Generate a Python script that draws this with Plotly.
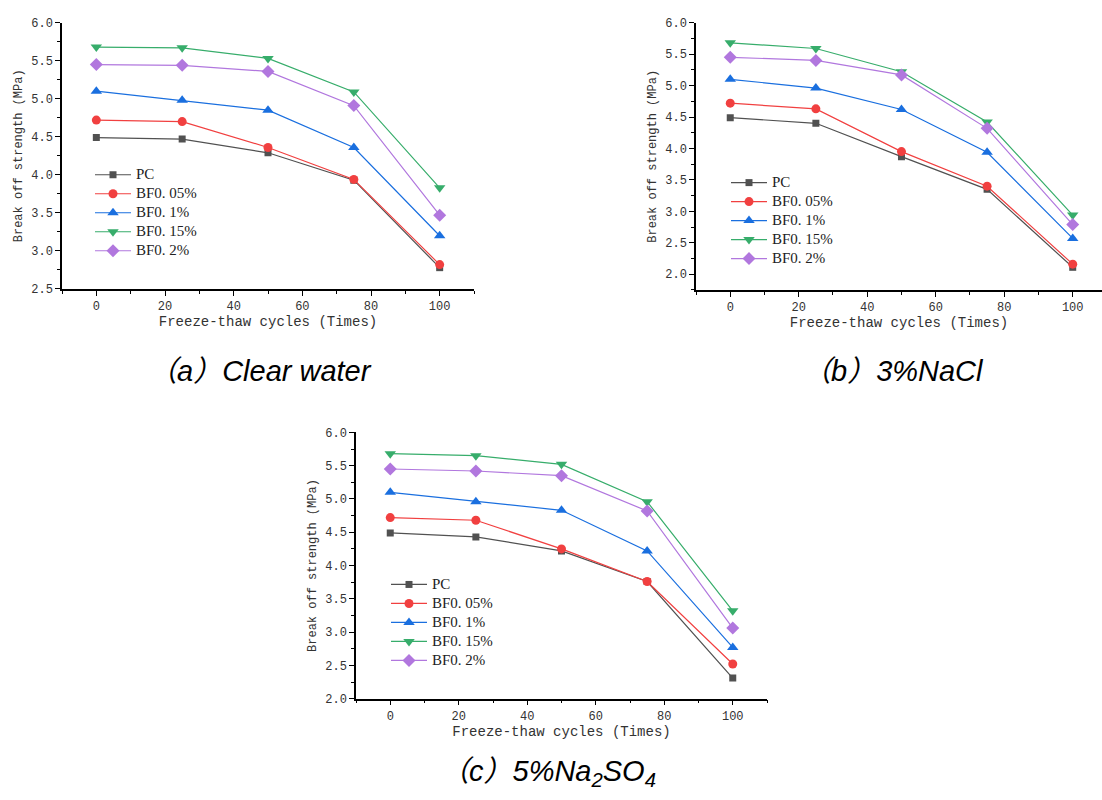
import plotly.graph_objects as go

# ---------------- data ----------------
cycles = [0, 25, 50, 75, 100]
series_names = ["PC", "BF0. 05%", "BF0. 1%", "BF0. 15%", "BF0. 2%"]

clear_pc = [4.49, 4.47, 4.29, 3.93, 2.78]
clear_bf005 = [4.72, 4.70, 4.36, 3.94, 2.82]
clear_bf01 = [5.10, 4.98, 4.85, 4.36, 3.20]
clear_bf015 = [5.68, 5.67, 5.53, 5.09, 3.83]
clear_bf02 = [5.45, 5.44, 5.36, 4.91, 3.47]

nacl_pc = [4.49, 4.40, 3.87, 3.35, 2.11]
nacl_bf005 = [4.72, 4.63, 3.95, 3.40, 2.16]
nacl_bf01 = [5.10, 4.96, 4.62, 3.94, 2.57]
nacl_bf015 = [5.68, 5.59, 5.22, 4.42, 2.94]
nacl_bf02 = [5.45, 5.40, 5.17, 4.32, 2.79]

na2so4_pc = [4.49, 4.43, 4.22, 3.76, 2.31]
na2so4_bf005 = [4.72, 4.68, 4.25, 3.76, 2.52]
na2so4_bf01 = [5.10, 4.96, 4.83, 4.22, 2.77]
na2so4_bf015 = [5.68, 5.65, 5.52, 4.96, 3.32]
na2so4_bf02 = [5.45, 5.42, 5.35, 4.82, 3.06]

captions = ["<i>（a）Clear water</i>", "<i>（b）3%NaCl</i>",
            "<i>（c）5%Na<sub>2</sub>SO<sub>4</sub></i>"]
x_title = "Freeze-thaw cycles (Times)"
y_title = "Break off strength (MPa)"

# ---------------- styles ----------------
colors = ["#515151", "#F14040", "#1A6FDF", "#37AD6B", "#B177DE"]
symbols = ["square", "circle", "triangle-up", "triangle-down", "diamond"]
msizes = [7, 9, 10, 10, 10]

W, H = 1102, 800
panels = [
    dict(data=[clear_pc, clear_bf005, clear_bf01, clear_bf015, clear_bf02],
         xpx=(62, 474), xr=[-10, 110], ypx=(17, 288), yr=[2.5, 6.0],
         legend_xy=(90, 157), cap_xy=(260, 372)),
    dict(data=[nacl_pc, nacl_bf005, nacl_bf01, nacl_bf015, nacl_bf02],
         xpx=(696, 1102), xr=[-10, 108.55], ypx=(17, 289), yr=[1.75, 6.0],
         legend_xy=(726, 165), cap_xy=(893, 372)),
    dict(data=[na2so4_pc, na2so4_bf005, na2so4_bf01, na2so4_bf015, na2so4_bf02],
         xpx=(356, 767), xr=[-10, 110], ypx=(434, 705), yr=[2.0, 6.0],
         legend_xy=(386, 574), cap_xy=(548, 781)),
]

fig = go.Figure()
layout = dict(
    width=W, height=H, margin=dict(l=0, r=0, t=0, b=0),
    paper_bgcolor="white", plot_bgcolor="white", showlegend=True,
    annotations=[],
)

tick_font = dict(family="Liberation Mono, monospace", size=12, color="#333333")
title_font_x = dict(family="Liberation Mono, monospace", size=14, color="#333333")
title_font_y = dict(family="Liberation Mono, monospace", size=12, color="#333333")

for i, p in enumerate(panels):
    n = "" if i == 0 else str(i + 1)
    xa, ya = "x" + n, "y" + n
    leg = "legend" + n
    for j, ys in enumerate(p["data"]):
        fig.add_trace(go.Scatter(
            x=cycles, y=ys,
            name="<span style='font-size:15px'>" + series_names[j] + "</span>",
            xaxis=xa, yaxis=ya, legend=leg, mode="lines+markers",
            line=dict(color=colors[j], width=1.2),
            marker=dict(symbol=symbols[j], size=msizes[j], color=colors[j]),
        ))
    x0, x1 = p["xpx"]
    y0, y1 = p["ypx"]
    layout["xaxis" + n] = dict(
        domain=[x0 / W, x1 / W], range=p["xr"], anchor=ya,
        showline=True, linecolor="black", linewidth=1.5, mirror=False,
        showgrid=False, zeroline=False,
        ticks="outside", ticklen=5, tickwidth=1.2, tickcolor="black",
        tick0=0, dtick=20, tickfont=tick_font,
        minor=dict(ticks="outside", ticklen=3, tickwidth=1, tickcolor="black",
                   dtick=10, showgrid=False),
        title=dict(text=x_title, font=title_font_x, standoff=3),
    )
    layout["yaxis" + n] = dict(
        domain=[1 - y1 / H, 1 - y0 / H], range=p["yr"], anchor=xa,
        showline=True, linecolor="black", linewidth=1.5, mirror=False,
        showgrid=False, zeroline=False,
        ticks="outside", ticklen=5, tickwidth=1.2, tickcolor="black",
        tick0=0, dtick=0.5, tickformat=".1f", tickfont=tick_font,
        minor=dict(ticks="outside", ticklen=3, tickwidth=1, tickcolor="black",
                   dtick=0.25, showgrid=False),
        title=dict(text=y_title, font=title_font_y, standoff=6),
    )
    lx, ly = p["legend_xy"]
    layout[leg] = dict(
        x=lx / W, y=1 - ly / H, xanchor="left", yanchor="top",
        xref="paper", yref="paper",
        bgcolor="rgba(0,0,0,0)", borderwidth=0,
        font=dict(family="Liberation Serif, serif", size=11, color="#222222"),
        itemwidth=36, tracegroupgap=0,
    )
    cx, cy = p["cap_xy"]
    layout["annotations"].append(dict(
        text=captions[i], x=cx / W, y=1 - cy / H, xref="paper", yref="paper",
        xanchor="center", yanchor="middle", showarrow=False,
        font=dict(family="Liberation Sans, Noto Sans CJK SC, sans-serif",
                  size=29, color="black"),
    ))

fig.update_layout(**layout)
fig.write_html("out.html")
